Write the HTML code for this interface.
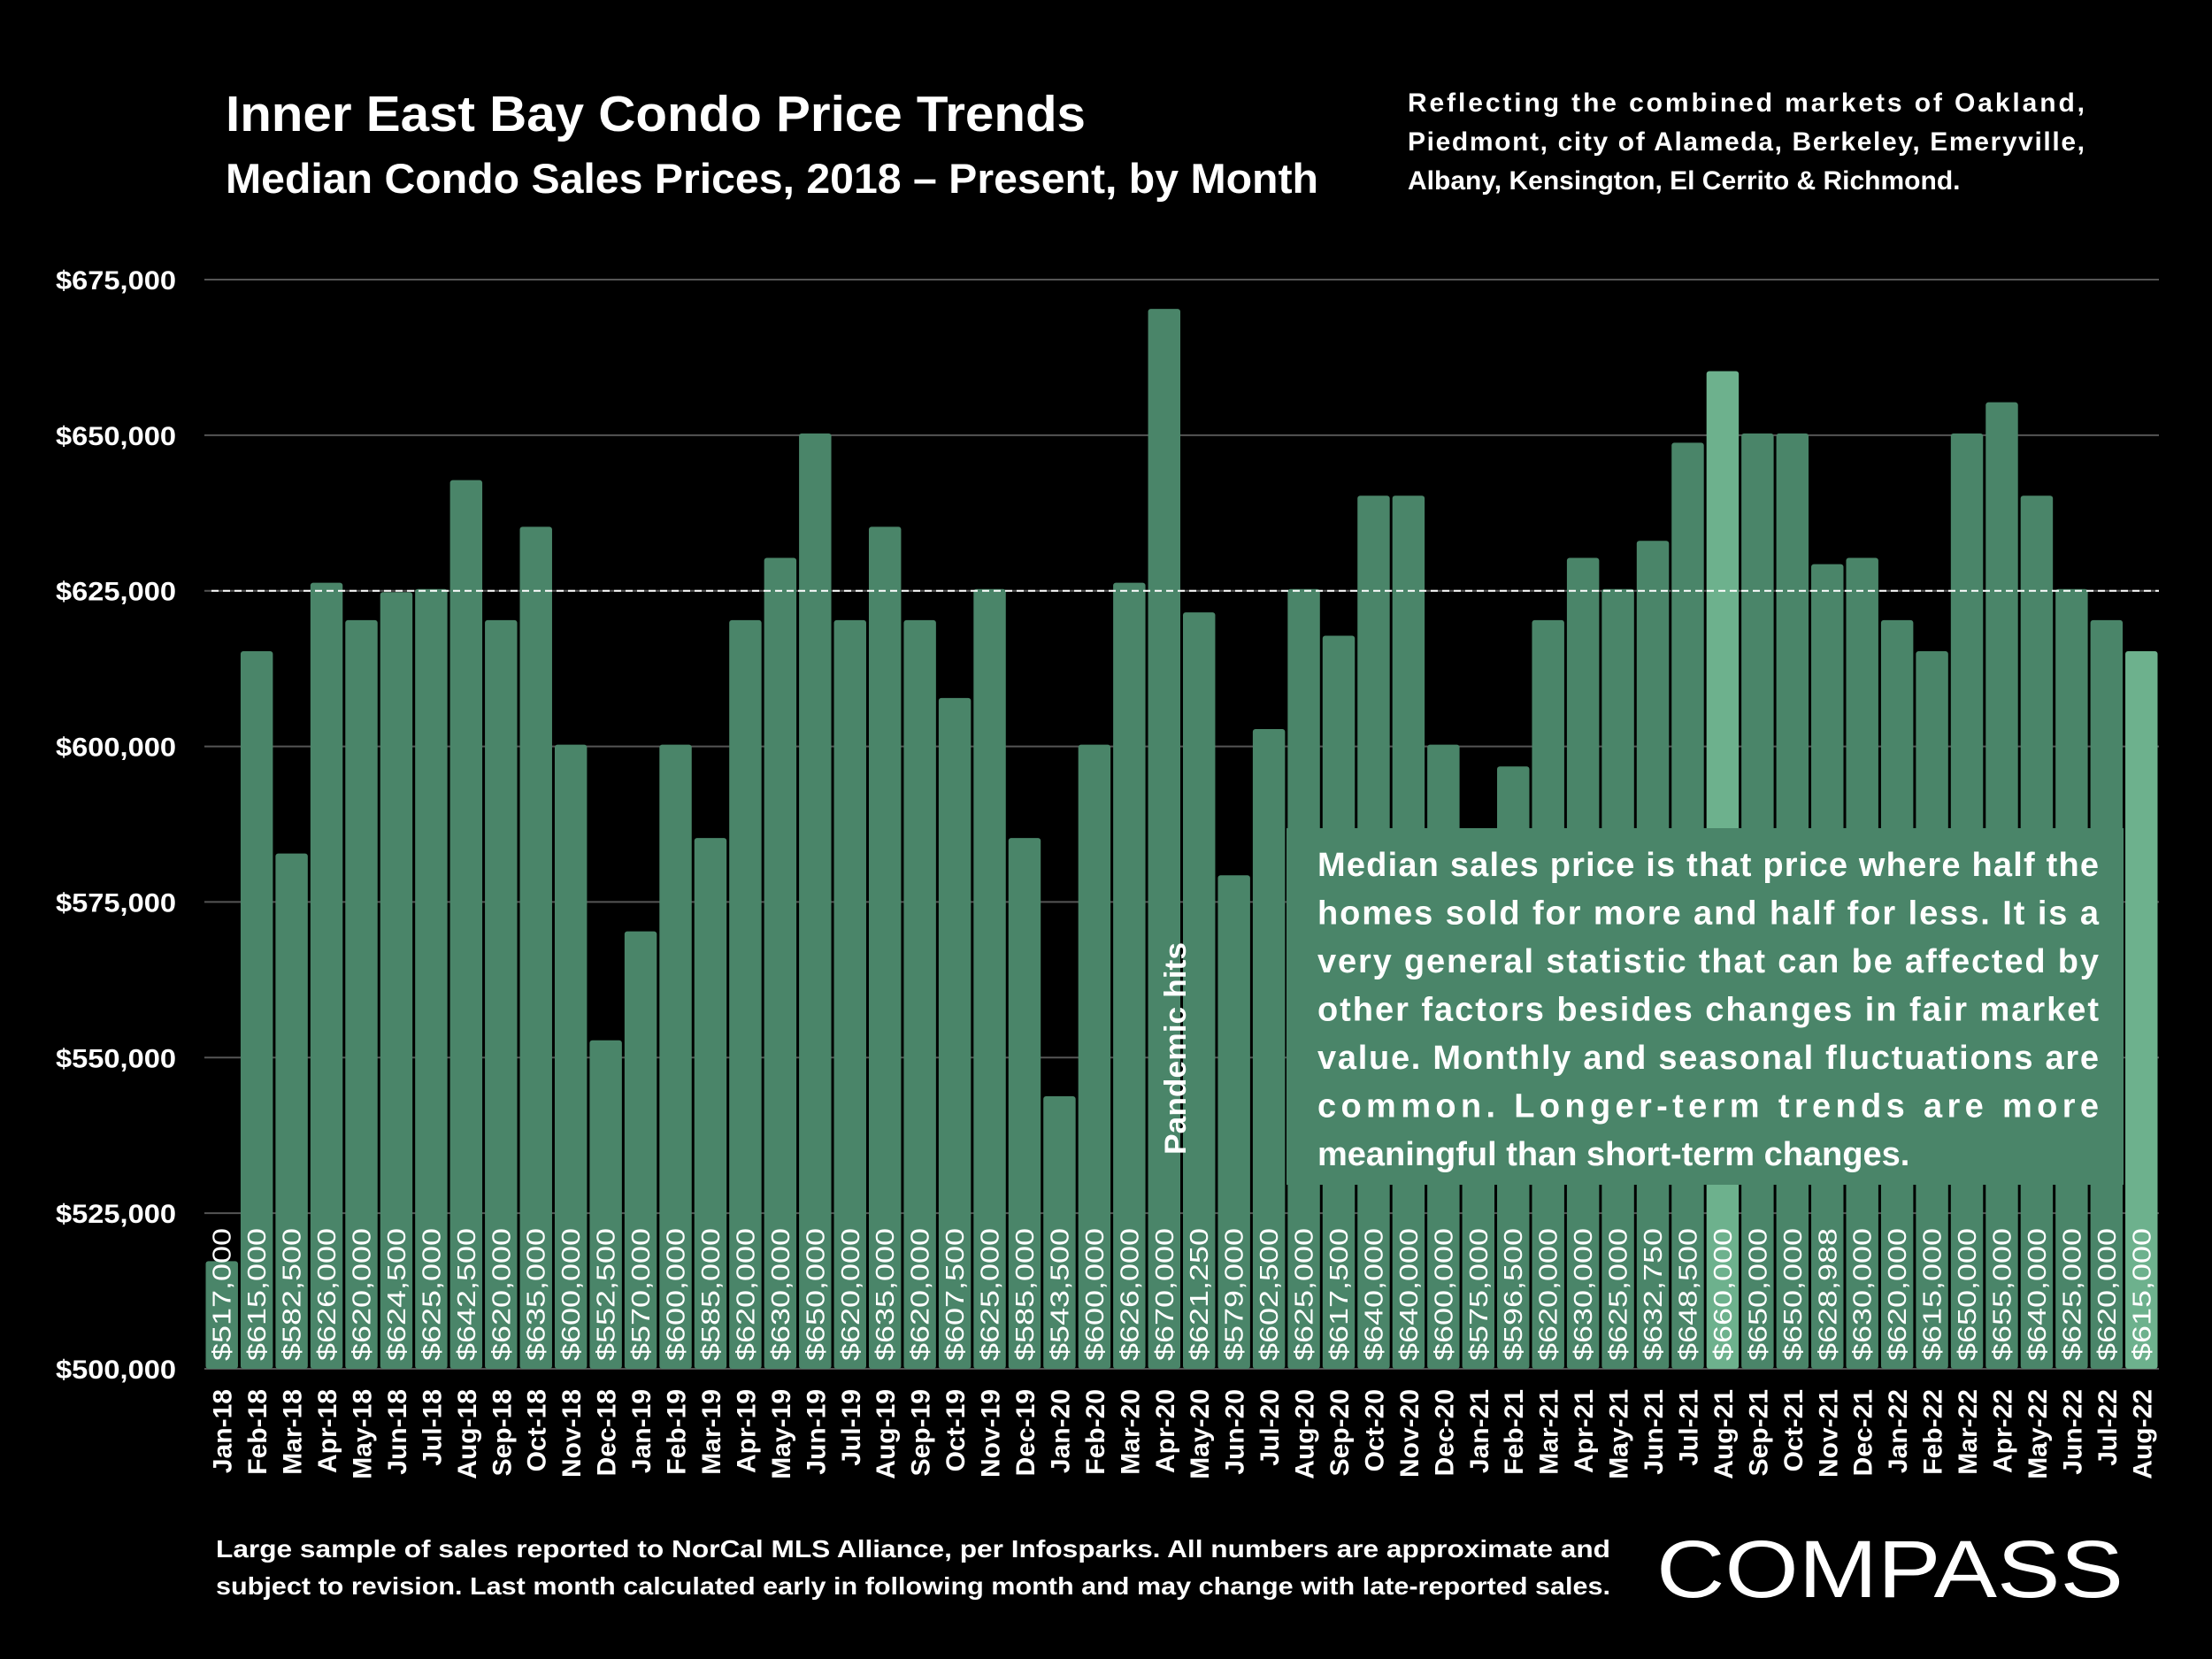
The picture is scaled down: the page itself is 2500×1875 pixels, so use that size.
<!DOCTYPE html>
<html><head><meta charset="utf-8">
<style>
html,body{margin:0;padding:0;background:#000;}
body{width:2500px;height:1875px;position:relative;overflow:hidden;font-family:"Liberation Sans",sans-serif;color:#fff;}
</style></head>
<body>
<svg id="chart" width="2500" height="1875" viewBox="0 0 2500 1875" xmlns="http://www.w3.org/2000/svg" style="position:absolute;left:0;top:0">
  <text x="255" y="148" font-family="Liberation Sans, sans-serif" font-weight="bold" font-size="57" fill="#fff" textLength="972" lengthAdjust="spacingAndGlyphs">Inner East Bay Condo Price Trends</text>
  <text x="255" y="218" font-family="Liberation Sans, sans-serif" font-weight="bold" font-size="47" fill="#fff" textLength="1235" lengthAdjust="spacingAndGlyphs">Median Condo Sales Prices, 2018 – Present, by Month</text>
  <g font-family="Liberation Sans, sans-serif" font-weight="bold" font-size="30" fill="#fff">
    <text x="1591" y="126" textLength="765" lengthAdjust="spacing">Reflecting the combined markets of Oakland,</text>
    <text x="1591" y="170" textLength="765" lengthAdjust="spacing">Piedmont, city of Alameda, Berkeley, Emeryville,</text>
    <text x="1591" y="214">Albany, Kensington, El Cerrito &amp; Richmond.</text>
  </g>
  <g id="grid"></g>
  <g id="bars"></g>
  <g id="labels"></g>
  <g font-family="Liberation Sans, sans-serif" font-weight="bold" font-size="28" fill="#fff">
    <text x="244" y="1760" textLength="1576" lengthAdjust="spacingAndGlyphs">Large sample of sales reported to NorCal MLS Alliance, per Infosparks. All numbers are approximate and</text>
    <text x="244" y="1802" textLength="1576" lengthAdjust="spacingAndGlyphs">subject to revision. Last month calculated early in following month and may change with late-reported sales.</text>
  </g>
  <text x="1872" y="1805" font-family="Liberation Sans, sans-serif" font-size="92" fill="#fff" textLength="528" lengthAdjust="spacingAndGlyphs">COMPASS</text>
</svg>
<script>
const months=["Jan-18","Feb-18","Mar-18","Apr-18","May-18","Jun-18","Jul-18","Aug-18","Sep-18","Oct-18","Nov-18","Dec-18",
"Jan-19","Feb-19","Mar-19","Apr-19","May-19","Jun-19","Jul-19","Aug-19","Sep-19","Oct-19","Nov-19","Dec-19",
"Jan-20","Feb-20","Mar-20","Apr-20","May-20","Jun-20","Jul-20","Aug-20","Sep-20","Oct-20","Nov-20","Dec-20",
"Jan-21","Feb-21","Mar-21","Apr-21","May-21","Jun-21","Jul-21","Aug-21","Sep-21","Oct-21","Nov-21","Dec-21",
"Jan-22","Feb-22","Mar-22","Apr-22","May-22","Jun-22","Jul-22","Aug-22"];
const prices=[517000,615000,582500,626000,620000,624500,625000,642500,620000,635000,600000,552500,
570000,600000,585000,620000,630000,650000,620000,635000,620000,607500,625000,585000,
543500,600000,626000,670000,621250,579000,602500,625000,617500,640000,640000,600000,
575000,596500,620000,630000,625000,632750,648500,660000,650000,650000,628988,630000,
620000,615000,650000,655000,640000,625000,620000,615000];
const highlighted=["Aug-21","Aug-22"];
const yTicks=[500000,525000,550000,575000,600000,625000,650000,675000];
const refLine=625000;
const ns="http://www.w3.org/2000/svg";
const X0=231,X1=2440,Y0=1547,Y1=316,YMIN=500000,YMAX=675000;
const slot=(X1-X0)/months.length;
const y=v=>Y0-(v-YMIN)/(YMAX-YMIN)*(Y0-Y1);
const x=i=>X0+i*slot;
function mk(tag,attrs,parent){const e=document.createElementNS(ns,tag);for(const k in attrs)e.setAttribute(k,attrs[k]);parent.appendChild(e);return e;}
const grid=document.getElementById('grid'),bars=document.getElementById('bars'),labels=document.getElementById('labels');
yTicks.forEach(t=>{
  const l=mk('line',{x1:X0,x2:X1,y1:y(t),y2:y(t),stroke:'#555','stroke-width':2},grid);
  
  
  const tx=mk('text',{x:63,y:y(t)+11,'font-size':30,'font-weight':'bold',fill:'#fff','font-family':'Liberation Sans, sans-serif',textLength:136,lengthAdjust:'spacingAndGlyphs'},grid);
  tx.textContent='$'+t.toLocaleString('en-US');
  
  
});
prices.forEach((v,i)=>{
  const hl=highlighted.includes(months[i]);
  const r=mk('rect',{x:x(i)+1.5,y:y(v)-2,width:slot-3,height:Y0-y(v)+2,rx:3,fill:hl?'#6db18d':'#4a8569'},bars);
  
  
});
const box=mk('rect',{x:1454,y:936,width:946,height:403,fill:'#4a8569'},bars);


const boxLines=["Median sales price is that price where half the","homes sold for more and half for less. It is a","very general statistic that can be affected by","other factors besides changes in fair market","value. Monthly and seasonal fluctuations are","common. Longer-term trends are more","meaningful than short-term changes."];
boxLines.forEach((s,k)=>{
  const a={x:1489,y:990+k*54.5,'font-size':38,'font-weight':'bold',fill:'#fff','font-family':'Liberation Sans, sans-serif'};
  if(k<boxLines.length-1){a.textLength=883;a.lengthAdjust='spacing';}
  const t=mk('text',a,bars);t.textContent=s;
  
  
});
const rl=mk('line',{x1:239,x2:X1,y1:y(refLine),y2:y(refLine),stroke:'#fff','stroke-width':2,'stroke-dasharray':'8 5'},bars);


const ph=mk('text',{transform:'translate(1340,1185) rotate(-90)','text-anchor':'middle','font-size':34,'font-weight':'bold',fill:'#fff','font-family':'Liberation Sans, sans-serif',textLength:240,lengthAdjust:'spacingAndGlyphs'},bars);
ph.textContent='Pandemic hits';


prices.forEach((v,i)=>{
  const cx=x(i)+slot/2+10;
  const t=mk('text',{transform:`translate(${cx},1538) rotate(-90)`,'font-size':29,fill:'#fff','font-family':'Liberation Sans, sans-serif',textLength:150,lengthAdjust:'spacingAndGlyphs'},labels);
  t.textContent='$'+v.toLocaleString('en-US');
  
  
  const m=mk('text',{transform:`translate(${cx+1},1570) rotate(-90)`,'text-anchor':'end','font-size':30,'font-weight':'bold',fill:'#fff','font-family':'Liberation Sans, sans-serif'},labels);
  m.textContent=months[i];
  
  
});
</script>
</body></html>
